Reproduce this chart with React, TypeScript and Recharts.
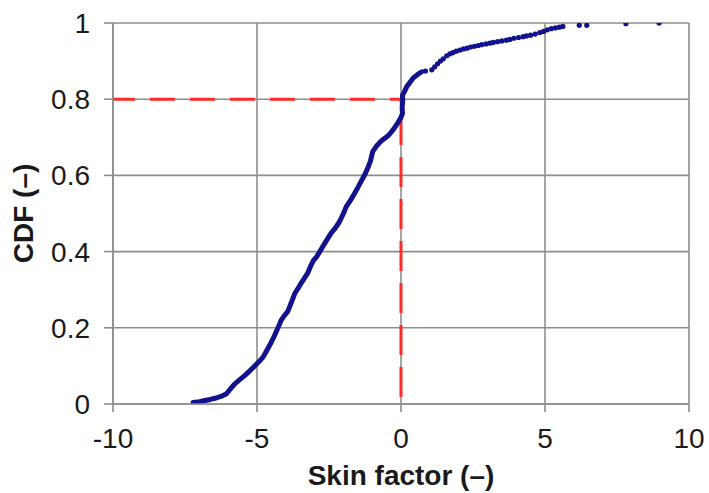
import React from 'react';
import {
  ComposedChart,
  Line,
  Scatter,
  XAxis,
  YAxis,
  CartesianGrid,
  ReferenceLine,
  Label,
} from 'recharts';

// Dense part of the empirical CDF (skin factor vs cumulative probability)
const curveX = [
  -7.22, -7.0, -6.81, -6.62, -6.46, -6.25, -6.06, -5.92, -5.77, -5.6, -5.42, -5.25, -5.08, -4.92,
  -4.79, -4.68, -4.56, -4.44, -4.33, -4.16, -4.05, -3.93, -3.8, -3.69, -3.57, -3.46, -3.33, -3.23,
  -3.12, -3.03, -2.94, -2.82, -2.71, -2.58, -2.42, -2.27, -2.13, -2.0, -1.9, -1.75, -1.61, -1.5,
  -1.38, -1.25, -1.15, -1.06, -0.98, -0.85, -0.69, -0.55, -0.4, -0.25, -0.11, 0.0, 0.05, 0.04,
  0.06, 0.05, 0.12, 0.2, 0.32, 0.43, 0.58, 0.72,
];
const curveY = [
  0.004, 0.006, 0.009, 0.012, 0.015, 0.02, 0.027, 0.04, 0.053, 0.064, 0.075, 0.087, 0.1, 0.112,
  0.123, 0.138, 0.154, 0.172, 0.19, 0.22, 0.232, 0.243, 0.268, 0.29, 0.304, 0.318, 0.333, 0.345,
  0.365, 0.378, 0.385, 0.4, 0.414, 0.43, 0.449, 0.463, 0.479, 0.5, 0.518, 0.535, 0.553, 0.568,
  0.585, 0.603, 0.62, 0.638, 0.663, 0.677, 0.69, 0.698, 0.708, 0.722, 0.738, 0.752, 0.762, 0.78,
  0.795, 0.81, 0.82, 0.833, 0.845, 0.856, 0.865, 0.872,
];

// Sparse upper tail (individual points)
const tailX = [
  0.85, 1.07, 1.17, 1.27, 1.37, 1.47, 1.59, 1.7, 1.8, 1.92, 2.05, 2.17, 2.3, 2.42, 2.55, 2.68, 2.8,
  2.95, 3.09, 3.2, 3.35, 3.5, 3.66, 3.78, 3.92, 4.08, 4.24, 4.36, 4.5, 4.66, 4.82, 4.95, 5.08, 5.22,
  5.36, 5.5, 5.62, 6.19, 6.45, 7.81, 8.96,
];
const tailY = [
  0.874, 0.877, 0.885, 0.893, 0.9, 0.906, 0.914, 0.919, 0.922, 0.926, 0.929, 0.932, 0.934, 0.937,
  0.939, 0.941, 0.943, 0.945, 0.947, 0.949, 0.951, 0.953, 0.955, 0.957, 0.96, 0.962, 0.964, 0.966,
  0.968, 0.971, 0.975, 0.978, 0.982, 0.985, 0.987, 0.989, 0.991, 0.994, 0.994, 0.998, 1.0,
];

const xTicks = [-10, -5, 0, 5, 10];
const yTicks = [0, 0.2, 0.4, 0.6, 0.8, 1];
const cutoffSkin = 0;
const cutoffCdf = 0.8;

const curveData = curveX.map((x, i) => ({ x, y: curveY[i] }));
const tailData = tailX.map((x, i) => ({ x, y: tailY[i] }));

const FONT = '"Liberation Sans", Arial, sans-serif';
const BLUE = '#12128c';
const GRID = '#8e8e8e';

const Dot = (p: any) => <circle cx={p.cx} cy={p.cy} r={2.6} fill={BLUE} />;

const YTitle = (props: any) => {
  const vb = props.viewBox || {};
  const cy = (vb.y ?? 23) + (vb.height ?? 381) / 2;
  return (
    <text
      x={33}
      y={cy}
      transform={`rotate(-90, 33, ${cy})`}
      textAnchor="middle"
      fontSize={28}
      fontWeight="bold"
      fill="#1a1a1a"
      fontFamily={FONT}
    >
      CDF (–)
    </text>
  );
};

export default function App() {
  return (
    <div style={{ position: 'absolute', left: 0, top: 0, width: 709, height: 493, background: '#fff' }}>
      <ComposedChart
        width={709}
        height={493}
        margin={{ top: 23, right: 20, bottom: 0, left: 0 }}
        style={{ fontFamily: FONT }}
      >
        <CartesianGrid stroke={GRID} strokeWidth={1.6} verticalPoints={undefined} />
        <XAxis
          type="number"
          dataKey="x"
          domain={[-10, 10]}
          ticks={xTicks}
          allowDataOverflow
          height={89}
          tickSize={8}
          tickMargin={16}
          stroke={GRID}
          strokeWidth={1.6}
          tick={{ fontSize: 28, fill: '#1a1a1a', fontFamily: FONT }}
        >
          <Label
            value="Skin factor (–)"
            position="insideBottom"
            offset={8}
            style={{ fontSize: 28, fontWeight: 'bold', fill: '#1a1a1a', fontFamily: FONT }}
          />
        </XAxis>
        <YAxis
          type="number"
          dataKey="y"
          domain={[0, 1]}
          ticks={yTicks}
          allowDataOverflow
          width={113}
          tickSize={9}
          tickMargin={14}
          stroke={GRID}
          strokeWidth={1.6}
          tick={{ fontSize: 28, fill: '#1a1a1a', fontFamily: FONT }}
        >
          <Label content={<YTitle />} />
        </YAxis>
        <ReferenceLine
          segment={[
            { x: -10, y: cutoffCdf },
            { x: cutoffSkin, y: cutoffCdf },
          ]}
          stroke="#ff2a2a"
          strokeWidth={3}
          strokeDasharray="25 15"
          strokeDashoffset={3}
        />
        <ReferenceLine
          segment={[
            { x: cutoffSkin, y: 0 },
            { x: cutoffSkin, y: cutoffCdf },
          ]}
          stroke="#ff2a2a"
          strokeWidth={3}
          strokeDasharray="30 12"
          strokeDashoffset={35}
        />
        <Line
          data={curveData}
          dataKey="y"
          type="linear"
          stroke={BLUE}
          strokeWidth={5}
          dot={false}
          activeDot={false}
          isAnimationActive={false}
          strokeLinejoin="round"
          strokeLinecap="round"
        />
        <Scatter data={tailData} dataKey="y" fill={BLUE} shape={<Dot />} isAnimationActive={false} />
      </ComposedChart>
    </div>
  );
}
